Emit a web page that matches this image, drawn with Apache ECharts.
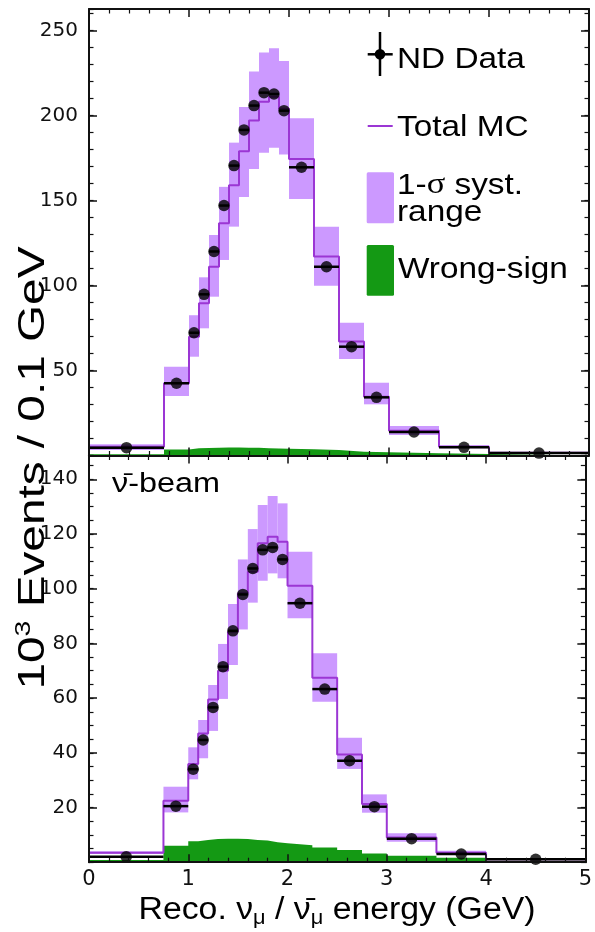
<!DOCTYPE html>
<html><head><meta charset="utf-8">
<script src="https://cdn.jsdelivr.net/npm/echarts@6/dist/echarts.min.js"></script>
<style>html,body{margin:0;padding:0;background:#fff}#c{width:595px;height:932px}</style>
</head><body><div id="c"></div>
<script>
// ---------- data (10^3 events / 0.1 GeV) ----------
const binEdges = [0, 0.75, 1.0, 1.1, 1.2, 1.3, 1.4, 1.5, 1.6, 1.7, 1.8, 1.9, 2.0, 2.25, 2.5, 2.75, 3.0, 3.5, 4.0, 5.0];

// top panel (neutrino beam)
const fhcData  = [4.6, 42.5, 72.2, 94.8, 120.0, 147.0, 170.5, 191.5, 205.8, 213.4, 212.6, 202.8, 169.5, 111.0, 64.0, 34.2, 13.8, 4.8, 1.4];
const fhcMC    = [5.2, 42.5, 69.9, 89.5, 111.0, 136.6, 159.0, 179.0, 197.0, 208.0, 211.0, 204.0, 174.4, 117.0, 67.0, 34.6, 14.6, 5.2, 1.6];
const fhcSystLo= [3.2, 35.0, 58.1, 74.8, 93.4, 115.0, 134.6, 152.0, 168.5, 178.0, 181.0, 177.0, 150.9, 99.9, 56.8, 30.1, 12.0, 4.2, 1.2];
const fhcSystHi= [6.6, 52.2, 82.5, 104.8, 129.7, 158.0, 184.0, 205.0, 225.8, 237.0, 239.5, 232.0, 198.3, 134.6, 78.1, 42.8, 17.4, 6.0, 2.0];
const fhcWrongSign = [0.8, 3.5, 4.2, 4.4, 4.6, 4.7, 4.7, 4.6, 4.5, 4.3, 4.1, 3.9, 3.7, 3.2, 2.2, 1.9, 1.3, 0.9, 0.0];

// bottom panel (antineutrino beam)
const rhcData  = [2.0, 20.5, 34.0, 44.7, 56.6, 71.5, 84.6, 97.9, 107.4, 114.2, 115.1, 110.7, 94.7, 63.3, 37.1, 20.3, 8.6, 3.0, 1.06];
const rhcMC    = [3.5, 22.5, 35.9, 47.1, 59.5, 70.0, 84.3, 98.3, 106.2, 116.6, 119.0, 117.2, 101.1, 67.4, 39.4, 21.3, 9.0, 3.5, 1.1];
const rhcSystLo= [3.0, 18.2, 30.3, 38.0, 48.0, 59.7, 72.1, 85.1, 94.9, 102.9, 105.6, 103.8, 89.2, 58.7, 34.1, 18.1, 7.5, 3.0, 0.9];
const rhcSystHi= [4.0, 27.6, 42.0, 52.0, 64.8, 79.8, 94.4, 110.7, 121.8, 130.6, 133.9, 131.2, 113.5, 76.4, 45.5, 24.8, 10.6, 4.2, 1.3];
const rhcWrongSign = [0.8, 6.0, 7.7, 8.1, 8.5, 8.6, 8.6, 8.5, 8.1, 7.9, 7.3, 6.9, 6.2, 5.4, 4.5, 3.2, 2.4, 1.6, 0.0];

// axes
const xMin = 0, xMax = 5, xStep = 1, xMinorStep = 0.2;
const fhcYMax = 262.6, fhcYStep = 50, fhcYMinorStep = 10;
const rhcYMax = 148.7, rhcYStep = 20, rhcYMinorStep = 5;

// ---------- styles ----------
const C_BAND = '#cc99ff', C_MC = '#9b36d4', C_WS = '#149914', C_BLK = '#000';
const F_SANS = '"Liberation Sans", Arial, sans-serif';

function stepPoints(vals){ const p = vals.map((v,i)=>[binEdges[i], v]); p.push([binEdges[binEdges.length-1], vals[vals.length-1]]); return p; }
function bandRows(lo, hi){ return lo.map((l,i)=>[binEdges[i], binEdges[i+1], l, hi[i]]); }
function pointRows(vals){ return vals.map((v,i)=>[(binEdges[i]+binEdges[i+1])/2, v, binEdges[i], binEdges[i+1]]); }

const grids = [
  {left: 89, top: 9, width: 500, height: 446.5},
  {left: 89, top: 455.5, width: 500, height: 406.7}
];

const lineStyle = {color: '#111', width: 2};
function xAx(grid, pos, labels){
  return {type:'value', gridIndex:grid, position:pos, min:xMin, max:xMax, interval:xStep, z:10,
    axisLine:{show:true, onZero:false, lineStyle}, splitLine:{show:false},
    axisTick:{show:true, inside:true, length:8, lineStyle:{color:'#111', width:1.5}},
    minorTick:{show:true, splitNumber: Math.round(xStep/xMinorStep), length:4.5, lineStyle:{color:'#111', width:1.2}},
    axisLabel:{show:labels, margin:7, color:'#111', fontFamily:'DejaVu Sans', fontSize:21}};
}
function yAx(grid, pos, max, step, major, labels){
  return {type:'value', gridIndex:grid, position:pos, min:0, max:max, interval:step, z:10,
    axisLine:{show:major, onZero:false, lineStyle}, splitLine:{show:false},
    axisTick:{show:true, inside:true, length: major ? 8 : 4.5, lineStyle:{color:'#111', width: major ? 1.5 : 1.2}},
    axisLabel:{show:labels, margin:11, color:'#111', fontFamily:'DejaVu Sans', fontSize:20,
      formatter: v => (v > 0 && Math.abs(v/step - Math.round(v/step)) < 1e-6) ? String(v) : ''}};
}

const xAxes = [xAx(0,'bottom',false), xAx(0,'top',false), xAx(1,'bottom',true), xAx(1,'top',false)];
const yAxes = [
  yAx(0,'left', fhcYMax, fhcYStep, true, true),  yAx(0,'left', fhcYMax, fhcYMinorStep, false, false),
  yAx(0,'right',fhcYMax, fhcYStep, true, false), yAx(0,'right',fhcYMax, fhcYMinorStep, false, false),
  yAx(1,'left', rhcYMax, rhcYStep, true, true),  yAx(1,'left', rhcYMax, rhcYMinorStep, false, false),
  yAx(1,'right',rhcYMax, rhcYStep, true, false), yAx(1,'right',rhcYMax, rhcYMinorStep, false, false)
];

function panelSeries(xi, yi, data, mc, lo, hi, ws){
  return [
    {type:'custom', xAxisIndex:xi, yAxisIndex:yi, z:2, data: bandRows(lo, hi), encode:{x:[0,1], y:[2,3]},
      renderItem:(p, api)=>{ const a = api.coord([api.value(0), api.value(2)]); const b = api.coord([api.value(1), api.value(3)]);
        return {type:'rect', shape:{x:a[0], y:b[1], width:b[0]-a[0], height:a[1]-b[1]}, style:{fill:C_BAND}}; }},
    {type:'line', xAxisIndex:xi, yAxisIndex:yi, z:3, step:'end', symbol:'none', data: stepPoints(ws),
      lineStyle:{width:0, color:C_WS}, areaStyle:{color:C_WS, opacity:1}},
    {type:'line', xAxisIndex:xi, yAxisIndex:yi, z:4, step:'end', symbol:'none', data: stepPoints(mc),
      lineStyle:{width:2, color:C_MC}},
    {type:'custom', xAxisIndex:xi, yAxisIndex:yi, z:5, data: pointRows(data), encode:{x:0, y:1},
      renderItem:(p, api)=>{ const a = api.coord([api.value(2), api.value(1)]); const b = api.coord([api.value(3), api.value(1)]);
        return {type:'line', shape:{x1:a[0], y1:a[1], x2:b[0], y2:b[1]}, style:{stroke:C_BLK, lineWidth:2.5}}; }},
    {type:'scatter', xAxisIndex:xi, yAxisIndex:yi, z:6, symbol:'circle', symbolSize:11.5, data: pointRows(data).map(r=>[r[0], r[1]]),
      itemStyle:{color:C_BLK}}
  ];
}

function txt(x, y, text, size, sx, extra){
  return Object.assign({type:'text', x:x, y:y, scaleX:sx, z:30,
    style:{text:text, fontFamily:F_SANS, fontSize:size, fill:'#000', align:'left', verticalAlign:'middle'}}, extra || {});
}

const graphics = [
  // legend: ND Data
  {type:'line', z:30, shape:{x1:380, y1:32, x2:380, y2:76}, style:{stroke:C_BLK, lineWidth:2.5}},
  {type:'line', z:30, shape:{x1:367.7, y1:54.3, x2:392.7, y2:54.3}, style:{stroke:C_BLK, lineWidth:2.5}},
  {type:'circle', z:31, shape:{cx:380, cy:54.3, r:5.3}, style:{fill:C_BLK}},
  txt(397, 60, 'ND Data', 29, 1.15),
  // Total MC
  {type:'line', z:30, shape:{x1:367.7, y1:126, x2:392.7, y2:126}, style:{stroke:C_MC, lineWidth:2}},
  txt(397, 127.5, 'Total MC', 29, 1.15),
  // syst band
  {type:'rect', z:30, shape:{x:366.7, y:172.3, width:27.3, height:51, r:1.5}, style:{fill:C_BAND}},
  {type:'text', x:397, y:185.5, scaleX:1.15, z:30, style:{text:'{n|1-}{g|σ}{n| syst.}', fill:'#000', align:'left', verticalAlign:'middle',
    rich:{n:{fontFamily:F_SANS, fontSize:29, fill:'#000'}, g:{fontFamily:'"Liberation Serif", serif', fontSize:30, fill:'#000'}}}},
  txt(397, 213, 'range', 29, 1.15),
  // wrong sign
  {type:'rect', z:30, shape:{x:366.7, y:245, width:27.3, height:50.7, r:1.5}, style:{fill:C_WS}},
  txt(398, 270, 'Wrong-sign', 29, 1.15),
  // beam label
  txt(112, 485, 'ν\u0304-beam', 27, 1.2),
  // axis titles
  {type:'text', x:337, y:910, scaleX:1.09, z:30, style:{text:'{n|Reco. ν}{s|μ}{n| / ν\u0304}{s|μ}{n| energy (GeV)}', fill:'#000', align:'center', verticalAlign:'middle',
    rich:{n:{fontFamily:F_SANS, fontSize:31, lineHeight:36, fill:'#000'}, s:{fontFamily:F_SANS, fontSize:20, lineHeight:20, verticalAlign:'bottom', fill:'#000'}}}},
  {type:'text', x:34, y:468, rotation:Math.PI/2, scaleX:1.29, z:30, style:{text:'{n|10}{p|3}{n| Events / 0.1 GeV}', fill:'#000', align:'center', verticalAlign:'middle',
    rich:{n:{fontFamily:F_SANS, fontSize:37, lineHeight:42, fill:'#000'}, p:{fontFamily:F_SANS, fontSize:22, lineHeight:22, verticalAlign:'top', fill:'#000'}}}}
];

const chart = echarts.init(document.getElementById('c'), null, {renderer:'canvas'});
chart.setOption({
  animation:false,
  backgroundColor:'#fff',
  grid: grids,
  xAxis: xAxes,
  yAxis: yAxes,
  series: [].concat(
    panelSeries(0, 0, fhcData, fhcMC, fhcSystLo, fhcSystHi, fhcWrongSign),
    panelSeries(2, 4, rhcData, rhcMC, rhcSystLo, rhcSystHi, rhcWrongSign)
  ),
  graphic: graphics
});
</script></body></html>
